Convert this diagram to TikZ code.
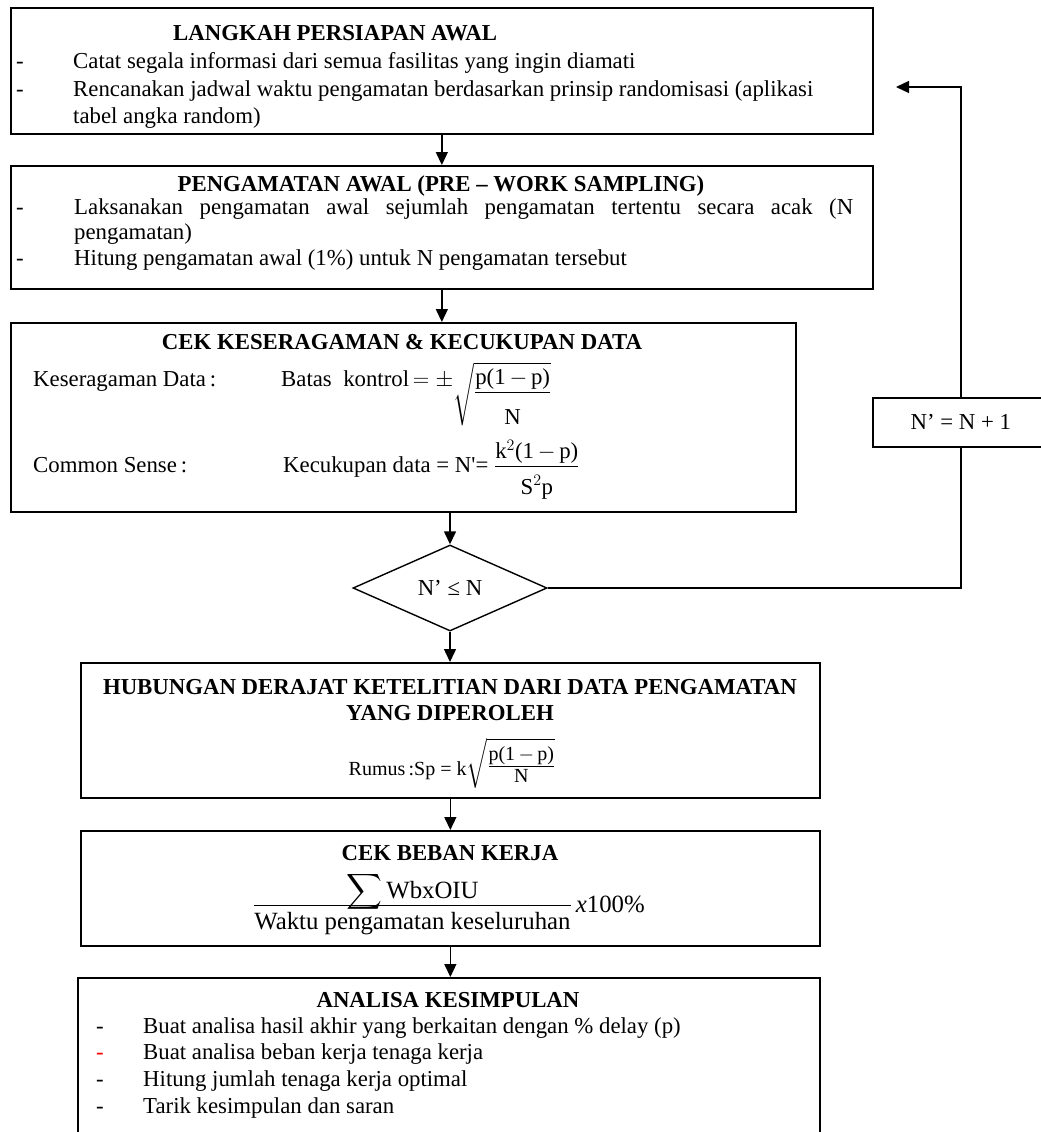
\RequirePackage{fix-cm}
\documentclass[tikz,border=0pt]{standalone}
\usepackage{amsmath}
\usepackage{fontspec}
\setmainfont{Liberation Serif}
\usetikzlibrary{shapes.geometric,arrows.meta,calc}
\begin{document}
\begin{tikzpicture}[x=1pt,y=-1pt,
  box/.style={draw,line width=1.7pt,rectangle,inner sep=0pt,anchor=north west},
  arr/.style={line width=1.4pt,-{Triangle[length=13pt,width=12pt]}},
  ln/.style={line width=1.4pt},
  txt/.style={inner sep=0pt,font=\fontsize{22.8}{27}\selectfont},
  ttl/.style={inner sep=0pt,font=\fontsize{22.8}{27}\selectfont\bfseries},
]
\useasboundingbox[fill=white] (0,0) rectangle (1041,1132);
% boxes
\node[box,minimum width=862pt,minimum height=126pt] (b1) at (10,7) {};
\node[box,minimum width=862pt,minimum height=123pt] (b2) at (10,165) {};
\node[box,minimum width=785pt,minimum height=189pt] (b3) at (10,322) {};
\node[diamond,draw,line width=1.4pt,minimum width=194pt,minimum height=86pt,inner sep=0pt,
      font=\fontsize{22.8}{27}\selectfont] (d) at (450,588) {N’ ≤ N};
\node[box,minimum width=739pt,minimum height=135pt] (b4) at (80,662) {};
\node[box,minimum width=739pt,minimum height=115pt] (b5) at (80,830) {};
\node[box,minimum width=742pt,minimum height=180pt] (b6) at (77,977) {};
\node[box,minimum width=176pt,minimum height=49pt,font=\fontsize{22.8}{27}\selectfont] (bN) at (872,397) {N’ = N + 1};
% connectors
\draw[arr] (b1.south) -- (b2.north);
\draw[arr] (b2.south) -- (b2.south |- b3.north);
\draw[arr] (b3.south -| d.north) -- (d.north);
\draw[arr] (d.south) -- (d.south |- b4.north);
\draw[arr] (b4.south) -- (b4.south |- b5.north);
\draw[arr] (b5.south) -- (b5.south |- b6.north);
\draw[ln] (d.east) -| (bN.south);
\coordinate (fb) at (896,87);
\draw[arr] (bN.north) |- (fb);
% box 1 text
\node[ttl,anchor=west] (t1) at (173,33) {LANGKAH PERSIAPAN AWAL};
\node[txt,anchor=base west] (t1a) at (16,69) {-};
\node[txt,anchor=base west] (t1b) at (73,69) {Catat segala informasi dari semua fasilitas yang ingin diamati};
\node[txt,anchor=base west] (t1c) at (16,96) {-};
\node[txt,anchor=base west] (t1d) at (73,96) {Rencanakan jadwal waktu pengamatan berdasarkan prinsip randomisasi (aplikasi};
\node[txt,anchor=base west] (t1e) at (73,123) {tabel angka random)};
% box 2 text
\node[ttl,anchor=base] (t2) at (441,191) {PENGAMATAN AWAL (PRE – WORK SAMPLING)};
\node[txt,anchor=base west] (t2a) at (16,214) {-};
\node[txt,anchor=base west] (t2b) at (74,214) {\makebox[779pt][s]{Laksanakan pengamatan awal sejumlah pengamatan tertentu secara acak (N}};
\node[txt,anchor=base west] (t2c) at (74,239) {pengamatan)};
\node[txt,anchor=base west] (t2d) at (16,265) {-};
\node[txt,anchor=base west] (t2e) at (74,265) {Hitung pengamatan awal (1\%) untuk N pengamatan tersebut};
% box 3 text
\node[ttl] (t3) at (402,342) {CEK KESERAGAMAN \& KECUKUPAN DATA};
\node[txt,anchor=base west] (t3a) at (33,386) {Keseragaman Data\,:};
\node[txt,anchor=base west] (t3b) at (281,386) {Batas\ \ kontrol$\,=\pm$\smash[t]{\raisebox{-12pt}{$\displaystyle\sqrt{\frac{\raisebox{-4pt}{p(1$\,-\,$p)}}{\rule{0pt}{29pt}\text{N}}}$}}};
\node[txt,anchor=base west] (t3c) at (33,472) {Common Sense\,:};
\node[txt,anchor=base west] (t3d) at (283,472) {Kecukupan data = N\textquotesingle{}= $\dfrac{\raisebox{-4pt}{k$^2$(1$\,-\,$p)}}{\rule{0pt}{25pt}\text{S}^2\text{p}}$};
% box 4 text
\node[ttl] (t4) at (450,687) {HUBUNGAN DERAJAT KETELITIAN DARI DATA PENGAMATAN};
\node[ttl] (t4a) at (450,713) {YANG DIPEROLEH};
\node[inner sep=0pt,font=\fontsize{20}{24}\selectfont,anchor=base] (t4b) at (452,775) {Rumus\,:Sp = k\smash[t]{\raisebox{4pt}{$\sqrt{\frac{\raisebox{-3pt}{p(1$\,-\,$p)}}{\rule{0pt}{15pt}\raisebox{0pt}{N}}}$}}};
% box 5 text
\node[ttl] (t5) at (450,853) {CEK BEBAN KERJA};
\node[inner sep=0pt,font=\fontsize{24.8}{29}\selectfont,anchor=base west] (t5a) at (253,912) {\smash[t]{$\dfrac{\smash[b]{\raisebox{-3pt}{$\displaystyle\sum\text{WbxOIU}$}}}{\rule{0pt}{20pt}\text{Waktu pengamatan keseluruhan}}$}\,\textit{x}100\%};
% box 6 text
\node[ttl] (t6) at (448,1000) {ANALISA KESIMPULAN};
\node[txt,anchor=base west] (t6a) at (96,1033) {-};
\node[txt,anchor=base west] (t6b) at (143,1033) {Buat analisa hasil akhir yang berkaitan dengan \% delay (p)};
\node[txt,anchor=base west,text=red] (t6c) at (96,1059) {-};
\node[txt,anchor=base west] (t6d) at (143,1059) {Buat analisa beban kerja tenaga kerja};
\node[txt,anchor=base west] (t6e) at (96,1086) {-};
\node[txt,anchor=base west] (t6f) at (143,1086) {Hitung jumlah tenaga kerja optimal};
\node[txt,anchor=base west] (t6g) at (96,1113) {-};
\node[txt,anchor=base west] (t6h) at (143,1113) {Tarik kesimpulan dan saran};
\end{tikzpicture}
\end{document}
